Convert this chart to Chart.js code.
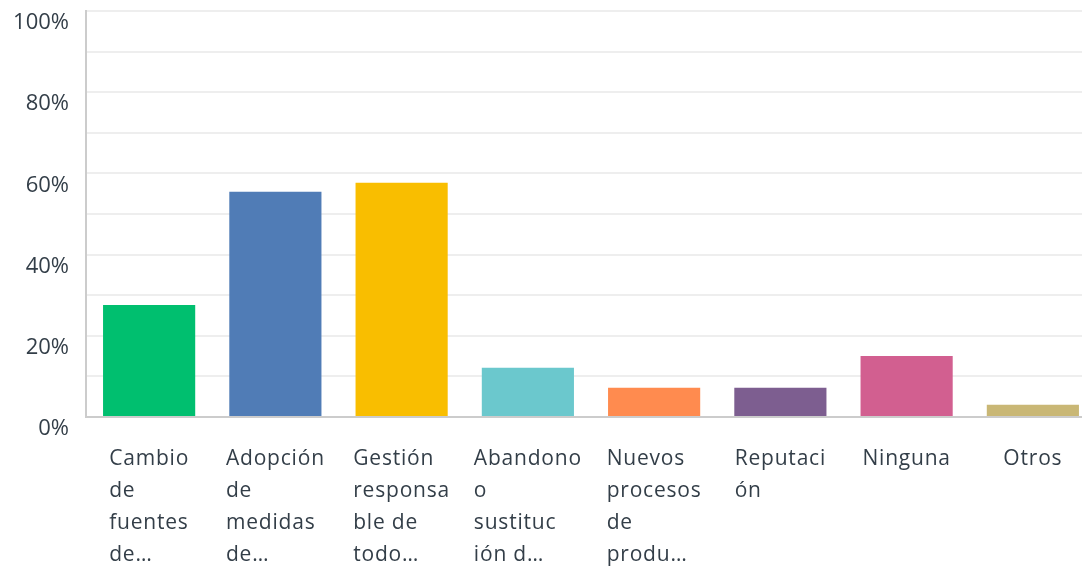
<!DOCTYPE html>
<html>
<head>
<meta charset="utf-8">
<script src="https://cdn.jsdelivr.net/npm/chart.js@4/dist/chart.umd.min.js"></script>
<style>
  html, body { margin: 0; padding: 0; background: #fff; overflow: hidden; }
  #wrap { width: 1096px; height: 566px; }
</style>
</head>
<body>
<div id="wrap"><canvas id="grafico"></canvas></div>
<script>
// respuestas (en %)
var categorias = [
    ["Cambio", "de", "fuentes", "de…"],
    ["Adopción", "de", "medidas", "de…"],
    ["Gestión", "responsa", "ble de", "todo…"],
    ["Abandono", "o", "sustituc", "ión d…"],
    ["Nuevos", "procesos", "de", "produ…"],
    ["Reputaci", "ón"],
    ["Ninguna"],
    ["Otros"]
];
var valores = [27.6, 55.5, 57.7, 12.1, 7.2, 7.2, 15.0, 3.0];
var cores = ["#00bf6f", "#507cb6", "#f9be00", "#6bc8cd", "#ff8b4f", "#7d5e90", "#d25f90", "#c9b775"];
var ticksY = [0, 20, 40, 60, 80, 100];

var corTexto = "#333e48";
var fonte = "'Open Sans', sans-serif";

// rotulos do eixo x: bloco centrado, linhas alinhadas a esquerda
var rotulosX = {
    id: 'rotulosX',
    afterDraw: function (chart) {
        var ctx = chart.ctx;
        var x = chart.scales.x;
        ctx.save();
        ctx.font = "21px " + fonte;
        ctx.letterSpacing = "0.8px";
        ctx.fillStyle = corTexto;
        ctx.textAlign = "left";
        ctx.textBaseline = "middle";
        categorias.forEach(function (linhas, i) {
            var larg = 0;
            linhas.forEach(function (l) { larg = Math.max(larg, ctx.measureText(l).width); });
            var cx = x.getPixelForValue(i);
            linhas.forEach(function (l, j) {
                ctx.fillText(l, cx - larg / 2, x.top + 42 + j * 32);
            });
        });
        ctx.restore();
    }
};

var ctx = document.getElementById('grafico').getContext('2d');
var grafico = new Chart(ctx, {
    type: 'bar',
    data: {
        labels: categorias.map(function (c) { return c.join(" "); }),
        datasets: [{
            label: "Respuestas",
            data: valores,
            backgroundColor: cores,
            barPercentage: 0.73,
            categoryPercentage: 1.0
        }]
    },
    options: {
        responsive: true,
        maintainAspectRatio: false,
        animation: false,
        layout: { padding: { top: 11, right: 0, bottom: 0, left: 0 } },
        plugins: { legend: { display: false }, tooltip: { enabled: false } },
        scales: {
            x: {
                grid: { display: false },
                border: { display: true, color: "#cccccc", width: 2 },
                ticks: { display: false },
                afterFit: function (s) { s.height = 149; }
            },
            y: {
                min: 0,
                max: 100,
                afterBuildTicks: function (s) {
                    s.ticks = [];
                    for (var v = 0; v <= 100; v += 10) s.ticks.push({ value: v });
                },
                afterFit: function (s) {
                    s.width = 86;
                    s.paddingTop = 0;
                    s.paddingBottom = 0;
                },
                grid: { color: "#eeeeee", lineWidth: 2, drawTicks: false },
                border: { display: true, color: "#cccccc", width: 2 },
                ticks: {
                    padding: 17,
                    labelOffset: 12,
                    color: corTexto,
                    font: { size: 22, family: fonte },
                    callback: function (v) { return ticksY.indexOf(v) >= 0 ? v + "%" : ""; }
                }
            }
        }
    },
    plugins: [rotulosX]
});
</script>
</body>
</html>
